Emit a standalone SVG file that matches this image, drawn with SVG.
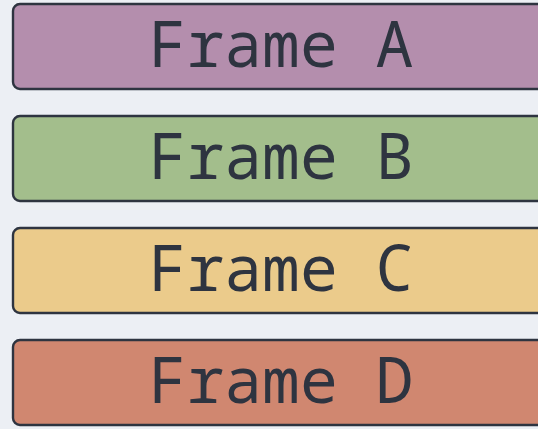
<svg xmlns="http://www.w3.org/2000/svg" width="538" height="429" viewBox="0 0 538 429">
<style>
.box{stroke:#2e3440;stroke-width:2.4}
.lbl{font-family:"Noto Sans Mono","DejaVu Sans Mono",monospace;font-size:63px;fill:#2e3440;text-anchor:middle}
</style>
<rect width="538" height="429" fill="#eceff4"/>
<g id="frameA"><rect class="box" x="13" y="4" width="540" height="85" rx="7" fill="#b48ead"/><text class="lbl" x="281" y="67">Frame A</text></g>
<g id="frameB"><rect class="box" x="13" y="116" width="540" height="85" rx="7" fill="#a3be8c"/><text class="lbl" x="281" y="179">Frame B</text></g>
<g id="frameC"><rect class="box" x="13" y="228" width="540" height="85" rx="7" fill="#ebcb8b"/><text class="lbl" x="281" y="291">Frame C</text></g>
<g id="frameD"><rect class="box" x="13" y="340" width="540" height="85" rx="7" fill="#d08770"/><text class="lbl" x="281" y="403">Frame D</text></g>
<g id="connectors"></g>
</svg>
